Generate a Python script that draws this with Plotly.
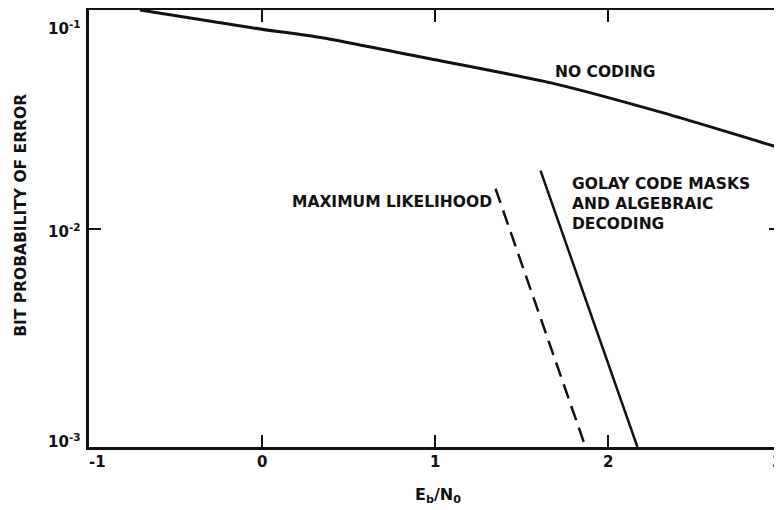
import plotly.graph_objects as go

# ---- data ----
no_coding_eb = [-0.705, -0.05, 0.355, 1.01, 1.67, 2.32, 3.0]
no_coding_pb = [0.100, 0.0827, 0.0745, 0.0590, 0.0464, 0.0338, 0.0233]

ml_eb = [1.35, 1.61, 1.87]
ml_pb = [0.0152, 0.0039, 0.0010]

golay_eb = [1.61, 1.89, 2.17]
golay_pb = [0.0184, 0.0043, 0.0010]

x_ticks = [-1, 0, 1, 2, 3]
x_tick_text = ["-1", "0", "1", "2", "3"]
y_ticks = [0.1, 0.01, 0.001]
y_tick_text = ["10<sup>-1</sup>", "10<sup>-2</sup>", "10<sup>-3</sup>"]

FONT = "DejaVu Sans"
INK = "#111111"

fig = go.Figure()
fig.add_trace(go.Scatter(x=no_coding_eb, y=no_coding_pb, mode="lines",
                         line=dict(color=INK, width=3, shape="spline", smoothing=0.6),
                         showlegend=False))
fig.add_trace(go.Scatter(x=ml_eb, y=ml_pb, mode="lines",
                         line=dict(color=INK, width=2.5, dash="15px,8px"),
                         showlegend=False))
fig.add_trace(go.Scatter(x=golay_eb, y=golay_pb, mode="lines",
                         line=dict(color=INK, width=2.5),
                         showlegend=False))

axis_common = dict(showline=True, linecolor=INK, linewidth=2.5, mirror="ticks",
                   ticks="inside", ticklen=12, tickwidth=2, tickcolor=INK,
                   showgrid=False, zeroline=False, showticklabels=False,
                   automargin=False)

fig.update_xaxes(range=[-1, 3], tickvals=x_ticks, **axis_common)
fig.update_yaxes(type="log", range=[-3, -1], tickvals=y_ticks, **axis_common)

# tick labels, nudged inside the picture like the original drawing
x_label_nudge = [8, 0, 0, 0, -4]
for xv, txt, dx in zip(x_ticks, x_tick_text, x_label_nudge):
    fig.add_annotation(x=xv, y=0, xref="x", yref="paper", yshift=-15, xshift=dx,
                       showarrow=False, text="<b>%s</b>" % txt,
                       xanchor="center", yanchor="middle",
                       font=dict(family=FONT, size=15, color=INK))

y_label_nudge = [-18, -2, 6]
import math
for yv, txt, dy in zip(y_ticks, y_tick_text, y_label_nudge):
    fig.add_annotation(x=0, y=math.log10(yv), xref="paper", yref="y",
                       xshift=-6, yshift=dy, showarrow=False,
                       text="<b>%s</b>" % txt,
                       xanchor="right", yanchor="middle",
                       font=dict(family=FONT, size=15, color=INK))

fig.add_annotation(x=1.98, y=-1.284, xref="x", yref="y", showarrow=False,
                   text="<b>NO CODING</b>", xanchor="center", yanchor="middle",
                   font=dict(family=FONT, size=15.5, color=INK))
fig.add_annotation(x=1.339, y=-1.879, xref="x", yref="y", showarrow=False,
                   text="<b>MAXIMUM LIKELIHOOD</b>", xanchor="right", yanchor="middle",
                   font=dict(family=FONT, size=15.5, color=INK))
fig.add_annotation(x=1.779, y=-1.888, xref="x", yref="y", showarrow=False,
                   text="<b>GOLAY CODE MASKS<br>AND ALGEBRAIC<br>DECODING</b>",
                   xanchor="left", yanchor="middle", align="left",
                   font=dict(family=FONT, size=15.5, color=INK))

fig.add_annotation(x=0, y=0.529, xref="paper", yref="paper", xshift=-68,
                   showarrow=False, textangle=-90,
                   text="<b>BIT PROBABILITY OF ERROR</b>",
                   xanchor="center", yanchor="middle",
                   font=dict(family=FONT, size=15.5, color=INK))
fig.add_annotation(x=0.504, y=0, xref="paper", yref="paper", yshift=-48,
                   showarrow=False,
                   text="<b>E<sub>b</sub>/N<sub>0</sub></b>",
                   xanchor="center", yanchor="middle",
                   font=dict(family=FONT, size=16, color=INK))

# the page adds an 8px body margin, so the figure is shifted accordingly
fig.update_layout(width=774, height=502,
                  margin=dict(l=81, r=1, t=2, b=63, autoexpand=False),
                  paper_bgcolor="white", plot_bgcolor="white",
                  showlegend=False)

fig.write_html("out.html")
